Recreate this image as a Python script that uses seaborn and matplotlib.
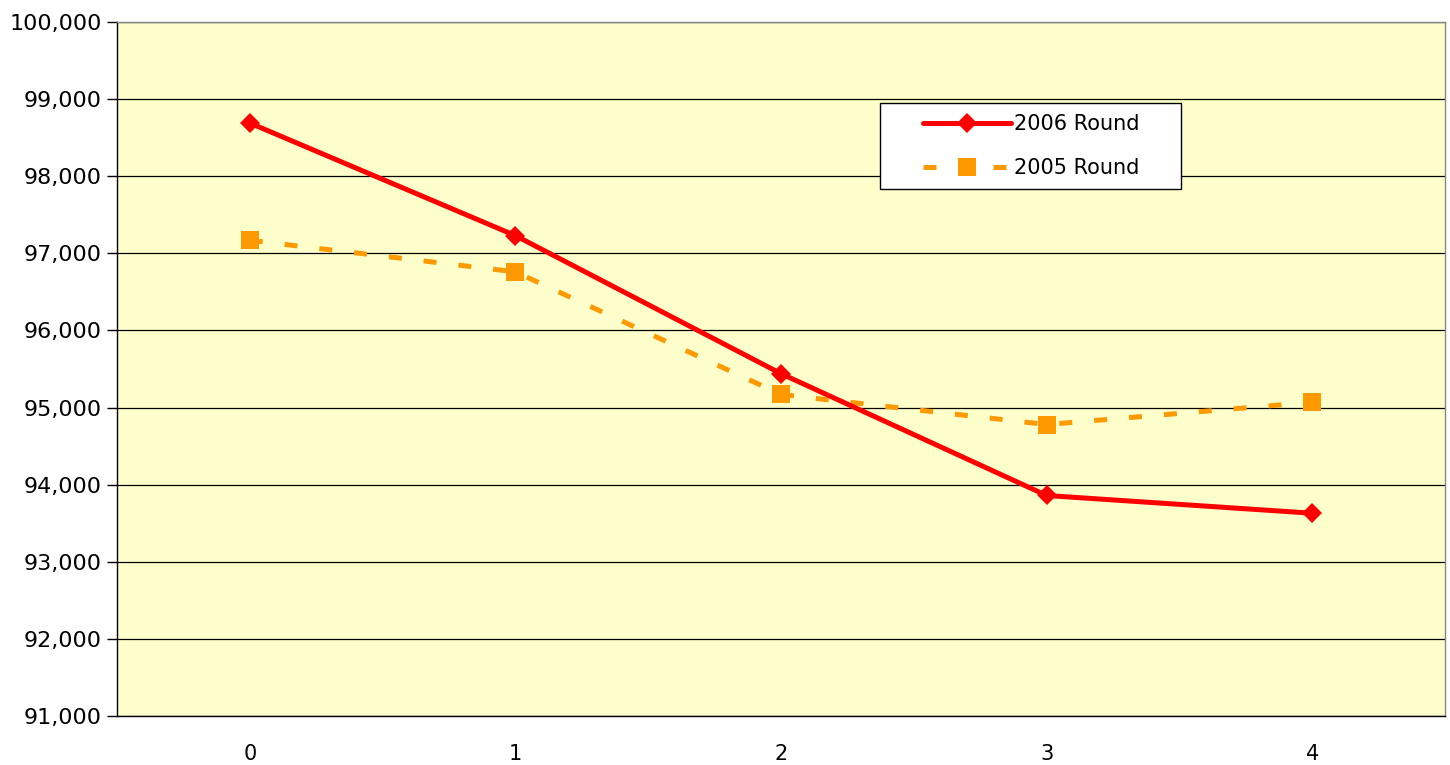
import matplotlib
matplotlib.use("Agg")
import matplotlib.pyplot as plt
import pandas as pd
import seaborn as sns
from matplotlib.patches import Rectangle
from matplotlib.ticker import FuncFormatter, MultipleLocator

# data
years = [0, 1, 2, 3, 4]
round_2006 = [98690, 97230, 95440, 93860, 93630]
round_2005 = [97170, 96760, 95170, 94780, 95070]

df = pd.DataFrame({"year": years, "2006 Round": round_2006, "2005 Round": round_2005})

sns.set_style("white")
plt.rcParams["font.family"] = ["DejaVu Sans"]
plt.rcParams["text.color"] = "black"
plt.rcParams["xtick.color"] = "black"
plt.rcParams["ytick.color"] = "black"

fig = plt.figure(figsize=(14.5, 7.65), dpi=100)
ax = fig.add_axes([0.0807, 0.064, 0.9159, 0.9072])
ax.set_facecolor("#FFFFCC")

sns.lineplot(data=df, x="year", y="2006 Round", ax=ax, color="#FF0000", lw=3.6,
             marker="D", markersize=10, markeredgewidth=0, label="2006 Round", zorder=4)
sns.lineplot(data=df, x="year", y="2005 Round", ax=ax, color="#FF9900", lw=3.6,
             marker="s", markersize=13, markeredgewidth=0, dashes=(2.6, 4.4),
             label="2005 Round", zorder=3)

ax.set_xlim(-0.5, 4.5)
ax.set_ylim(91000, 100000)
ax.yaxis.set_major_locator(MultipleLocator(1000))
ax.yaxis.set_major_formatter(FuncFormatter(lambda v, p: f"{int(v):,}"))
ax.grid(axis="y", color="black", lw=0.9)
ax.set_axisbelow(True)

ax.set_xticks(years)
ax.set_xticks([-0.5, 0.5, 1.5, 2.5, 3.5, 4.5], minor=True)
ax.tick_params(axis="x", which="major", length=0, pad=20, labelsize=15)
ax.tick_params(axis="x", which="minor", length=7, width=1, color="black", direction="out")
ax.tick_params(axis="y", length=7, width=1, color="black", direction="out", left=True,
               labelsize=16, pad=4)
ax.set_xlabel("")
ax.set_ylabel("")

for s in ["left", "bottom"]:
    ax.spines[s].set_color("black")
    ax.spines[s].set_linewidth(1)
for s in ["top", "right"]:
    ax.spines[s].set_color("#888888")
    ax.spines[s].set_linewidth(1)

# legend box drawn separately so it gets the wide side margins of the original
ax.add_patch(Rectangle((0.5745, 0.7594), 0.2267, 0.1239, transform=ax.transAxes,
                       facecolor="white", edgecolor="black", lw=1, zorder=5))
leg = ax.legend(loc="center left", bbox_to_anchor=(0.6069, 0.8213), fontsize=15,
                frameon=False, handlelength=4.2, borderpad=0, labelspacing=1.15,
                handletextpad=0.15, borderaxespad=0)
leg.set_zorder(6)

fig.savefig("out.png", dpi=100)
